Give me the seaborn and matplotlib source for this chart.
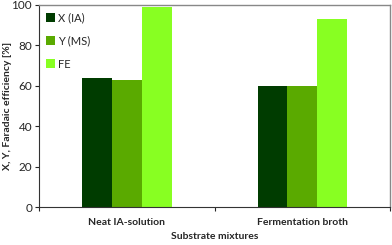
import numpy as np
import pandas as pd
import matplotlib
matplotlib.use("Agg")
import matplotlib.pyplot as plt
import seaborn as sns

categories = ["Neat IA-solution", "Fermentation broth"]
series = ["X (IA)", "Y (MS)", "FE"]
x_ia = [64, 60]
y_ms = [63, 60]
fe = [99, 93]
colors = ["#003c00", "#5aaa00", "#88ff22"]

df = pd.DataFrame({
    "mixture": categories * 3,
    "series": [s for s in series for _ in categories],
    "value": x_ia + y_ms + fe,
})

sns.set_style("white")
plt.rcParams["font.family"] = ["Lato", "DejaVu Sans"]

fig = plt.figure(figsize=(3.92, 2.45), dpi=100)
ax = fig.add_axes([0.0995, 0.155, 0.8955, 0.825])

sns.barplot(data=df, x="mixture", y="value", hue="series", order=categories,
            hue_order=series, palette=colors, width=0.51, gap=0,
            saturation=1, edgecolor="none", ax=ax)

ax.set_xlim(-0.5, 1.5)
ax.set_ylim(0, 100)
ax.set_yticks([0, 20, 40, 60, 80, 100])
ax.tick_params(axis="y", labelsize=8.5, length=3, width=0.8, left=True, pad=2)
ax.set_xticks([-0.5, 0.5, 1.5], minor=True)
ax.tick_params(axis="x", which="major", length=0, labelsize=7.5, pad=8)
ax.tick_params(axis="x", which="minor", length=3, width=0.8, bottom=True)
for lbl in ax.get_xticklabels():
    lbl.set_fontweight("bold")

ax.set_xlabel("Substrate mixtures", fontsize=7.5, fontweight="bold")
ax.set_ylabel("X, Y, Faradaic efficiency [%]", fontsize=7.5, fontweight="bold")
ax.xaxis.set_label_coords(0.5, -0.145, transform=ax.transAxes)
ax.yaxis.set_label_coords(-0.09, 0.5, transform=ax.transAxes)
ax.xaxis.label.set_va("center")
ax.yaxis.label.set_va("center")

for side in ["left", "bottom"]:
    ax.spines[side].set_color("#333333")
    ax.spines[side].set_linewidth(0.8)
for side in ["top", "right"]:
    ax.spines[side].set_color("#888888")
    ax.spines[side].set_linewidth(1.0)

leg = ax.legend(loc="upper left", bbox_to_anchor=(0.0, 1.0), frameon=False,
                fontsize=8, handlelength=0.8, handleheight=0.9,
                handletextpad=0.3, labelspacing=1.1, borderaxespad=0.25)

fig.savefig("out.png", dpi=100)
